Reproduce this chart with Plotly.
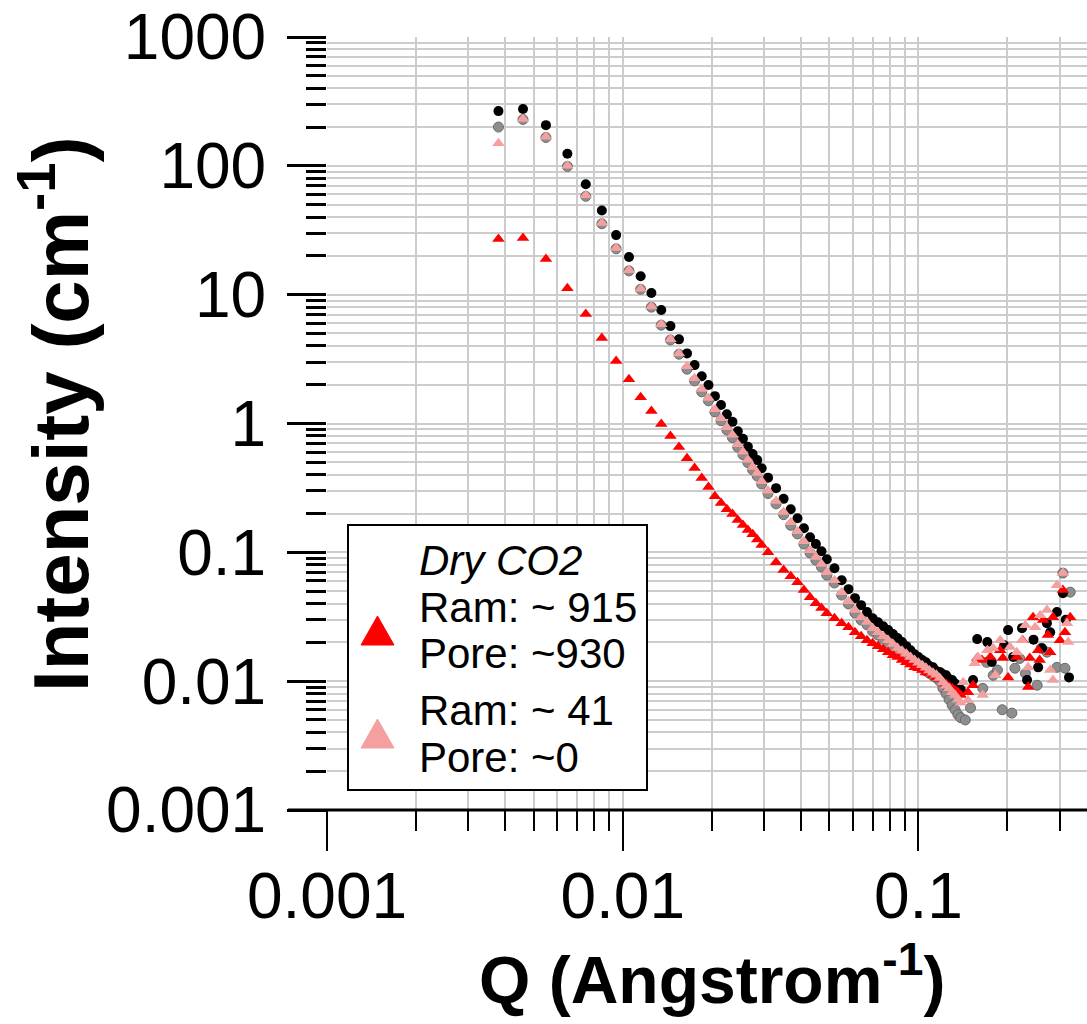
import plotly.graph_objects as go

# Q grid shared by the low/mid-Q part of all four curves (Angstrom^-1)
q_lo = [0.0038, 0.0046, 0.0055, 0.0065, 0.0075, 0.0085, 0.0095, 0.0105, 0.0115, 0.0125,
        0.0135, 0.0145, 0.0155, 0.0165, 0.0175, 0.0185, 0.0195, 0.0205, 0.0215, 0.0225,
        0.0235, 0.0245, 0.0255, 0.0265, 0.0275, 0.0285, 0.0295,
        0.031, 0.033, 0.035, 0.037, 0.039, 0.041, 0.043, 0.045, 0.047, 0.049,
        0.052, 0.055, 0.058, 0.061, 0.064, 0.067, 0.070, 0.073, 0.076, 0.079,
        0.082, 0.085, 0.088, 0.091, 0.094, 0.097, 0.100, 0.103, 0.106, 0.109,
        0.112, 0.115, 0.118, 0.121, 0.124, 0.127, 0.130, 0.133, 0.136, 0.139]

i_black = [266, 276, 207, 124, 72, 45, 29, 19.6, 13.9, 10.3,
           7.6, 5.7, 4.5, 3.5, 2.84, 2.33, 1.99, 1.63, 1.39, 1.18,
           1.03, 0.87, 0.76, 0.66, 0.58, 0.52, 0.45,
           0.38, 0.315, 0.26, 0.216, 0.184, 0.154, 0.131, 0.116, 0.102, 0.0885,
           0.0753, 0.0608, 0.0518, 0.0441, 0.0389, 0.0344, 0.0308, 0.0287, 0.0267, 0.0249,
           0.0232, 0.0216, 0.0201, 0.0187, 0.0174, 0.0162, 0.0154, 0.0146, 0.0140, 0.0131,
           0.0128, 0.0120, 0.0118, 0.0113, 0.0111, 0.0104, 0.0102, 0.0096, 0.0088, 0.0086]

i_gray = [200, 229, 166, 99, 58, 35.5, 22.7, 15.3, 11.0, 8.0,
          5.8, 4.45, 3.45, 2.64, 2.14, 1.76, 1.50, 1.23, 1.05, 0.89,
          0.776, 0.655, 0.573, 0.497, 0.437, 0.391, 0.339,
          0.286, 0.238, 0.196, 0.162, 0.139, 0.116, 0.099, 0.087, 0.077, 0.0665,
          0.0578, 0.0466, 0.0397, 0.0338, 0.0298, 0.0274, 0.0244, 0.0228, 0.0212, 0.0198,
          0.0184, 0.0172, 0.0163, 0.0155, 0.0146, 0.0139, 0.0132, 0.0126, 0.0120, 0.0115,
          0.0110, 0.0106, 0.0100, 0.0088, 0.0080, 0.0072, 0.0065, 0.0060, 0.0055, 0.0052]

i_red = [27.0, 27.5, 18.9, 11.2, 7.07, 4.6, 3.05, 2.21, 1.6, 1.25,
         0.99, 0.8, 0.656, 0.538, 0.451, 0.377, 0.321, 0.273, 0.241, 0.216,
         0.198, 0.178, 0.163, 0.149, 0.138, 0.126, 0.114,
         0.100, 0.0839, 0.0728, 0.0653, 0.0587, 0.0509, 0.0449, 0.0403, 0.0369, 0.0337,
         0.0308, 0.0282, 0.0262, 0.0240, 0.0223, 0.0208, 0.0197, 0.0187, 0.0177, 0.0168,
         0.0159, 0.0154, 0.0146, 0.0140, 0.0135, 0.0128, 0.0126, 0.0122, 0.0117, 0.0115,
         0.0111, 0.0107, 0.0104, 0.0098, 0.0095, 0.0091, 0.0088, 0.0085, 0.0082, 0.0078]

i_pink = [150, 231, 168, 100, 59, 36, 23, 15.5, 11.1, 8.1,
          5.9, 4.5, 3.5, 2.78, 2.25, 1.85, 1.58, 1.29, 1.10, 0.936,
          0.817, 0.69, 0.603, 0.523, 0.46, 0.412, 0.357,
          0.301, 0.25, 0.206, 0.171, 0.146, 0.122, 0.104, 0.092, 0.081, 0.070,
          0.0608, 0.049, 0.0418, 0.0356, 0.0314, 0.0288, 0.0257, 0.0240, 0.0223, 0.0208,
          0.0194, 0.0181, 0.0172, 0.0163, 0.0154, 0.0146, 0.0139, 0.0133, 0.0127, 0.0121,
          0.0116, 0.0112, 0.0106, 0.0098, 0.0092, 0.0088, 0.0082, 0.0078, 0.0072, 0.0068]

# noisy high-Q points, each curve on its own
q_black_hi = [0.153, 0.158, 0.171, 0.177, 0.195, 0.201, 0.209, 0.224, 0.233, 0.245,
              0.254, 0.262, 0.272, 0.279, 0.294, 0.308, 0.315, 0.323]
i_black_hi = [0.0102, 0.0212, 0.0201, 0.0141, 0.0190, 0.0249, 0.0154, 0.0258, 0.0102, 0.0210,
              0.0128, 0.0180, 0.0282, 0.0240, 0.0344, 0.0482, 0.0300, 0.0107]

q_gray_hi = [0.144, 0.150, 0.165, 0.170, 0.179, 0.185, 0.192, 0.207, 0.212, 0.220,
             0.230, 0.252, 0.260, 0.272, 0.294, 0.308, 0.313, 0.326]
i_gray_hi = [0.0050, 0.0062, 0.0088, 0.0140, 0.0111, 0.0122, 0.0060, 0.00565, 0.0126, 0.0150,
             0.0115, 0.0093, 0.0180, 0.0168, 0.0128, 0.0690, 0.0126, 0.0491]

q_red_hi = [0.147, 0.153, 0.158, 0.164, 0.175, 0.189, 0.193, 0.201, 0.215, 0.225,
            0.235, 0.238, 0.244, 0.254, 0.257, 0.264, 0.274, 0.279, 0.285, 0.301,
            0.308, 0.313, 0.326]
i_red_hi = [0.0082, 0.0093, 0.0151, 0.0146, 0.0154, 0.0174, 0.0151, 0.0107, 0.0154, 0.0208,
            0.0090, 0.0151, 0.0314, 0.0174, 0.0146, 0.0298, 0.0228, 0.0168, 0.0314, 0.0208,
            0.0509, 0.0240, 0.0314]

q_pink_hi = [0.1416, 0.147, 0.155, 0.159, 0.165, 0.171, 0.179, 0.182, 0.189, 0.204,
             0.215, 0.224, 0.230, 0.235, 0.248, 0.258, 0.272, 0.279, 0.285, 0.294,
             0.308, 0.318, 0.321]
i_pink_hi = [0.0098, 0.0071, 0.0138, 0.0154, 0.0078, 0.0174, 0.0180, 0.0111, 0.0208, 0.0184,
             0.0168, 0.0208, 0.0272, 0.0128, 0.0262, 0.0325, 0.0356, 0.0122, 0.0102, 0.0556,
             0.0690, 0.0282, 0.0201]

x_ticks = [0.001, 0.01, 0.1]
x_labels = ['0.001', '0.01', '0.1']
y_ticks = [0.001, 0.01, 0.1, 1, 10, 100, 1000]
y_labels = ['0.001', '0.01', '0.1', '1', '10', '100', '1000']
x_minor = [m * d for d in (0.001, 0.01, 0.1) for m in range(2, 10) if m * d < 0.37]
y_minor = [m * d for d in (0.001, 0.01, 0.1, 1, 10, 100) for m in range(2, 10)]

legend_lines = ['<i>Dry CO2</i>', 'Ram: ~ 915', 'Pore: ~930', 'Ram: ~ 41', 'Pore: ~0']

# plot area in page pixels: x 327..1087, y 37..810
def px_x(p):
    return (p - 327) / 760.0

def px_y(p):
    return (810 - p) / 773.0

FONT = 'Arial, Liberation Sans, sans-serif'
GRID = '#cccccc'

fig = go.Figure()
fig.add_trace(go.Scatter(x=q_lo + q_gray_hi, y=i_gray + i_gray_hi, mode='markers',
                         marker=dict(symbol='circle', size=10, color='#8e8e8e',
                                     line=dict(color='#6a6a6a', width=1))))
fig.add_trace(go.Scatter(x=q_lo + q_black_hi, y=i_black + i_black_hi, mode='markers',
                         marker=dict(symbol='circle', size=10, color='black')))
fig.add_trace(go.Scatter(x=q_lo + q_red_hi, y=i_red + i_red_hi, mode='markers',
                         marker=dict(symbol='triangle-up', size=11, color='#ff0000')))
fig.add_trace(go.Scatter(x=q_lo + q_pink_hi, y=i_pink + i_pink_hi, mode='markers',
                         marker=dict(symbol='triangle-up', size=11, color='#f5a0a0')))

fig.update_xaxes(type='log', range=[-3, -0.43], tickmode='array', tickvals=x_ticks, ticktext=x_labels,
                 ticks='outside', ticklen=40, tickwidth=2, tickcolor='black',
                 tickfont=dict(family=FONT, size=64, color='black'), ticklabelstandoff=-10,
                 ticklabeloverflow='allow',
                 showgrid=True, gridcolor=GRID, gridwidth=2, zeroline=False, showline=False,
                 minor=dict(tickmode='array', tickvals=x_minor, ticks='outside', ticklen=20,
                            tickwidth=2, tickcolor='black', showgrid=True, gridcolor=GRID, gridwidth=2))
fig.update_yaxes(type='log', range=[-3, 3], tickmode='array', tickvals=y_ticks, ticktext=y_labels,
                 ticks='outside', ticklen=39, tickwidth=3, tickcolor='black',
                 tickfont=dict(family=FONT, size=64, color='black'), ticklabelstandoff=8,
                 ticklabeloverflow='allow',
                 showgrid=True, gridcolor=GRID, gridwidth=2, zeroline=False, showline=False,
                 minor=dict(tickmode='array', tickvals=y_minor, ticks='outside', ticklen=20,
                            tickwidth=3, tickcolor='black', showgrid=True, gridcolor=GRID, gridwidth=2))

shapes = [
    # bottom axis line, running out under the y ticks
    dict(type='line', xref='paper', yref='paper', x0=px_x(288), x1=1, y0=0, y1=0,
         line=dict(color='black', width=3), layer='above'),
    # legend box
    dict(type='rect', xref='paper', yref='paper', x0=px_x(348), x1=px_x(647),
         y0=px_y(790), y1=px_y(525), line=dict(color='black', width=2),
         fillcolor='white', layer='above'),
]
for apex, color in ((616, '#ff0000'), (719, '#f5a0a0')):
    path = 'M %f %f L %f %f L %f %f Z' % (px_x(361), px_y(apex + 29), px_x(394), px_y(apex + 29),
                                          px_x(377.5), px_y(apex))
    shapes.append(dict(type='path', xref='paper', yref='paper', path=path,
                       fillcolor=color, line=dict(color=color, width=1), layer='above'))

annotations = [
    dict(text='<b>Intensity (cm<sup>-1</sup>)</b>', xref='paper', yref='paper',
         x=px_x(56), y=px_y(414), textangle=-90, showarrow=False,
         xanchor='center', yanchor='middle', font=dict(family=FONT, size=78, color='black')),
    dict(text='<b>Q (Angstrom<sup>-1</sup>)</b>', xref='paper', yref='paper',
         x=px_x(712), y=px_y(975), showarrow=False,
         xanchor='center', yanchor='middle', font=dict(family=FONT, size=66, color='black')),
]
for txt, yc in zip(legend_lines, [560, 607, 653, 710, 757]):
    annotations.append(dict(text=txt, xref='paper', yref='paper', x=px_x(417), y=px_y(yc),
                            showarrow=False, xanchor='left', yanchor='middle',
                            font=dict(family=FONT, size=42, color='black')))

fig.update_layout(width=1087, height=1024, margin=dict(l=327, r=0, t=37, b=214),
                  paper_bgcolor='white', plot_bgcolor='white', showlegend=False,
                  font=dict(family=FONT, color='black'), shapes=shapes, annotations=annotations)

# drop the default 8px page margin so the figure fills the window
fig.write_html('out.html', config={'displayModeBar': False},
               post_script="document.body.style.margin='0';")
